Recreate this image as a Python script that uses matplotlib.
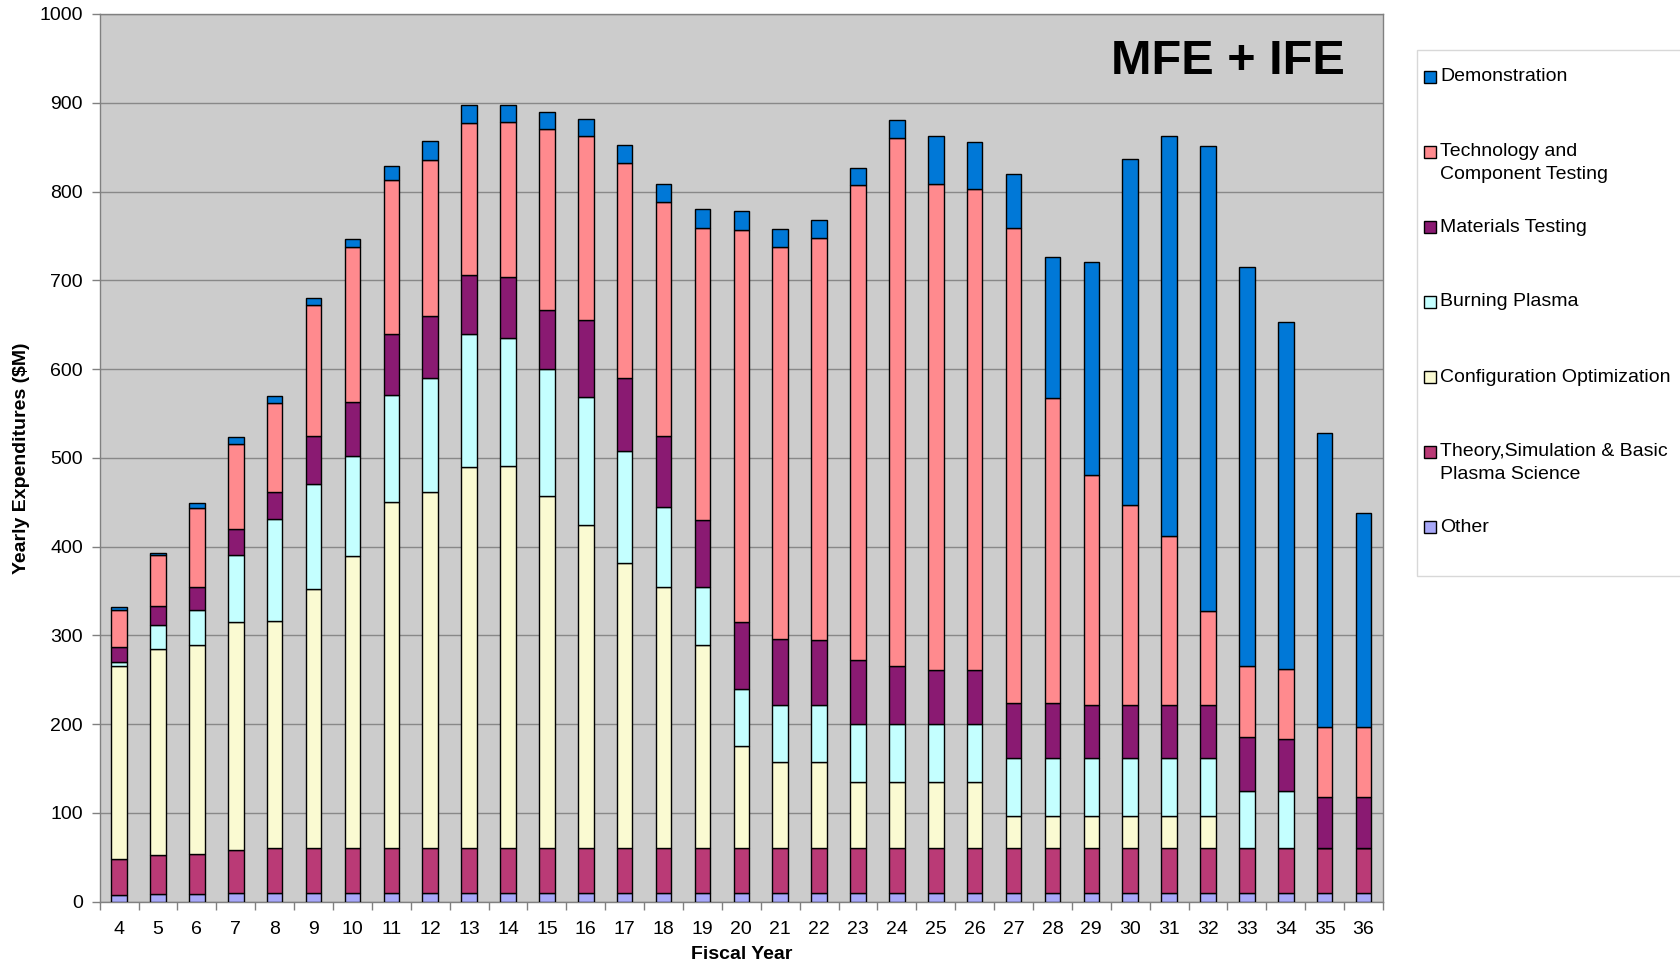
import matplotlib
matplotlib.use("Agg")
import matplotlib.pyplot as plt
import matplotlib.patches as mpatches
import numpy as np

plt.rcParams['font.family'] = ['Liberation Sans', 'DejaVu Sans']

years = list(range(4, 37))

# yearly expenditures per category ($M)
other = [8, 9, 9, 10, 10, 10, 10, 10, 10, 10, 10, 10, 10, 10, 10, 10, 10,
         10, 10, 10, 10, 10, 10, 10, 10, 10, 10, 10, 10, 10, 10, 10, 10]
theory = [40, 43, 45, 48, 50, 50, 50, 50, 50, 50, 50, 50, 50, 50, 50, 50, 50,
          50, 50, 50, 50, 50, 50, 50, 50, 50, 50, 50, 50, 50, 50, 50, 50]
config = [217, 233, 235, 257, 256, 292, 329, 390, 402, 430, 431, 397, 364, 322, 295, 229, 115,
          97, 97, 75, 75, 75, 75, 37, 37, 37, 37, 37, 37, 0, 0, 0, 0]
burning = [5, 27, 40, 76, 115, 119, 113, 121, 128, 150, 144, 143, 144, 126, 90, 66, 65,
           65, 65, 65, 65, 65, 65, 65, 65, 65, 65, 65, 65, 65, 65, 0, 0]
materials = [17, 21, 25, 29, 31, 53, 61, 68, 70, 66, 69, 67, 87, 82, 79, 75, 75,
             74, 73, 72, 65, 61, 61, 62, 62, 60, 60, 60, 60, 60, 58, 58, 58]
tech = [41, 57, 90, 95, 100, 148, 174, 174, 176, 171, 174, 203, 207, 242, 264, 329, 442,
        442, 453, 535, 595, 547, 542, 535, 343, 259, 225, 190, 105, 80, 79, 79, 79]
demo = [4, 3, 5, 8, 8, 8, 10, 16, 21, 20, 20, 20, 20, 20, 20, 21, 21,
        20, 20, 20, 20, 54, 53, 61, 159, 240, 390, 450, 524, 450, 391, 331, 241]

series = [
    ("Other", other, "#A8A8F8"),
    ("Theory,Simulation & Basic\nPlasma Science", theory, "#BA3A76"),
    ("Configuration Optimization", config, "#FAFAD2"),
    ("Burning Plasma", burning, "#C4FFFF"),
    ("Materials Testing", materials, "#8A1A72"),
    ("Technology and\nComponent Testing", tech, "#FF8A8E"),
    ("Demonstration", demo, "#0078D7"),
]

W, H = 1681, 964
fig = plt.figure(figsize=(W / 100, H / 100), dpi=100)
ax = fig.add_axes([0.0593, 0.0647, 0.7634, 0.9208])
ax.set_facecolor("#CCCCCC")

bottom = np.zeros(len(years))
for name, vals, col in series:
    ax.bar(years, vals, width=0.4, bottom=bottom, color=col,
           edgecolor="black", linewidth=1.0, label=name, zorder=3)
    bottom += np.array(vals)

ax.set_xlim(3.5, 36.5)
ax.set_ylim(0, 1000)
ax.set_yticks(range(0, 1001, 100))
ax.set_xticks(years)
ax.set_xticks(np.arange(3.5, 37, 1), minor=True)
ax.tick_params(axis='x', which='major', length=0, pad=14, labelsize=14)
ax.tick_params(axis='x', which='minor', length=6, color="#808080", width=1)
ax.tick_params(axis='y', length=6, color="#808080", width=1, labelsize=14, pad=6)
ax.grid(axis='y', color="#888888", linewidth=1, zorder=0)
for s in ax.spines.values():
    s.set_color("#808080")
    s.set_linewidth(1)

ax.set_xlabel("Fiscal Year", fontsize=14, fontweight='bold', labelpad=6)
ax.set_ylabel("Yearly Expenditures ($M)", fontsize=14, fontweight='bold',
              family=['Liberation Sans Narrow', 'Liberation Sans'], labelpad=7)

ax.text(0.970, 0.947, "MFE + IFE", transform=ax.transAxes, ha='right', va='center',
        fontsize=35, fontweight='bold')

# legend drawn Excel style: entries evenly spaced, second lines hang below
fig.patches.append(mpatches.Rectangle((1417 / W, 1 - 576 / H), 0.2, (576 - 50) / H,
                                      transform=fig.transFigure, facecolor="white",
                                      edgecolor="#D8D8D8", linewidth=1))
for i, (name, vals, col) in enumerate(series[::-1]):
    yc = 77 + 75 * i
    fig.patches.append(mpatches.Rectangle((1424 / W, 1 - (yc + 6) / H), 12 / W, 12 / H,
                                          transform=fig.transFigure, facecolor=col,
                                          edgecolor="black", linewidth=1))
    for j, line in enumerate(name.split("\n")):
        fig.text(1440 / W, 1 - (yc + 22.5 * j) / H, line, ha='left', va='center',
                 fontsize=14)

fig.savefig("out.png", dpi=100)
